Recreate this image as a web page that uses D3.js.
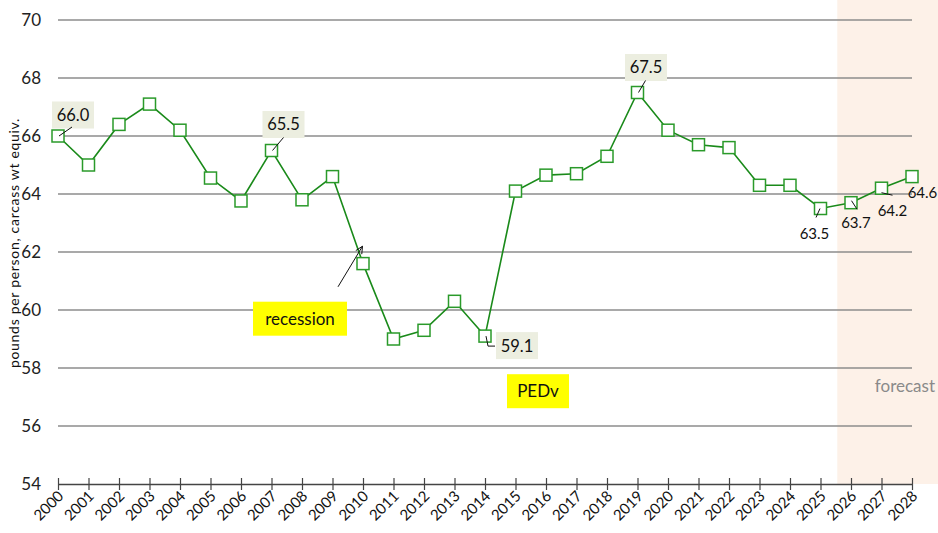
<!DOCTYPE html>
<html><head><meta charset="utf-8">
<script src="https://cdn.jsdelivr.net/npm/d3@7"></script>
<style>body{margin:0;background:#fff}svg{display:block;font-family:Lato,"Open Sans",sans-serif}</style>
</head><body><svg id="c" width="938" height="533"></svg>
<script>
const years = [2000,2001,2002,2003,2004,2005,2006,2007,2008,2009,2010,2011,2012,2013,2014,2015,2016,2017,2018,2019,2020,2021,2022,2023,2024,2025,2026,2027,2028];
const values = [66.0,65.0,66.4,67.1,66.2,64.55,63.76,65.5,63.8,64.6,61.6,59.0,59.3,60.3,59.1,64.1,64.65,64.7,65.3,67.5,66.2,65.7,65.6,64.3,64.3,63.5,63.7,64.2,64.6];
const yTicks = [54,56,58,60,62,64,66,68,70];
const forecastStart = 2025.55;
const boxedLabels = [2000,2007,2019,2014];
const plainLabels = [2025,2026,2027,2028];
const yTitle = "pounds per person, carcass wt equiv.";

const svg = d3.select("#c");
const x = d3.scaleLinear().domain([2000,2028]).range([58,912]);
const y = d3.scaleLinear().domain([54,70]).range([484,20]);
const val = yr => values[years.indexOf(yr)];

// forecast band
svg.append("rect").attr("x", x(forecastStart)).attr("y", 0)
  .attr("width", 938 - x(forecastStart)).attr("height", y(54) - 0)
  .attr("fill", "#fdf1e8");

// gridlines
svg.append("g").selectAll("line").data(yTicks.filter(d=>d>54)).join("line")
  .attr("x1", x(2000)).attr("x2", x(2028)).attr("y1", d=>y(d)).attr("y2", d=>y(d))
  .attr("stroke", "#8c8c8c").attr("stroke-width", 1.5);

// y labels
svg.append("g").selectAll("text").data(yTicks).join("text")
  .attr("x", 41).attr("y", d=>y(d)).attr("dy", "0.36em").attr("text-anchor","end")
  .attr("font-size", 17).attr("fill", "#222").text(d=>d);

// x axis
const xAxis = d3.axisBottom(x).tickValues(years).tickFormat(d3.format("d")).tickSize(6).tickSizeOuter(0);
const gx = svg.append("g").attr("transform", `translate(0,${y(54)})`).call(xAxis);
gx.select(".domain").attr("stroke", "#444").attr("stroke-width", 1.5);
gx.selectAll(".tick line").attr("y1", -6).attr("y2", 6).attr("stroke", "#444").attr("stroke-width", 1.2);
gx.selectAll(".tick text").attr("font-size", 15).attr("fill", "#111")
  .attr("font-family", "Lato, 'Open Sans', sans-serif")
  .attr("text-anchor", "end").attr("dx", 0).attr("dy", 0).attr("y", 0)
  .attr("transform", "translate(6,13) rotate(-45)");

// y title
svg.append("text").attr("transform", "translate(19,243) rotate(-90)")
  .attr("text-anchor", "middle").attr("font-size", 14).attr("letter-spacing", 0.7).attr("fill", "#111").text(yTitle);

// line
svg.append("path").datum(years.map((d,i)=>[d,values[i]]))
  .attr("d", d3.line().x(d=>x(d[0])).y(d=>y(d[1])))
  .attr("fill","none").attr("stroke","#1a8a1a").attr("stroke-width",1.6);

// markers
svg.append("g").selectAll("rect").data(years.map((d,i)=>[d,values[i]])).join("rect")
  .attr("x", d=>x(d[0])-6).attr("y", d=>y(d[1])-6).attr("width",12).attr("height",12)
  .attr("fill","#fff").attr("stroke","#2a9a2a").attr("stroke-width",1.5);

// boxed labels: offsets of box centre and leader end
const boxedPos = {2000:{dx:15,dy:-21,lx:14,ly:-9}, 2007:{dx:12,dy:-26,lx:12,ly:-13}, 2019:{dx:8.5,dy:-25,lx:8,ly:-12}, 2014:{dx:32,dy:9.5}};
const fmt = d3.format(".1f");
boxedLabels.forEach(yr=>{
  const cx = x(yr), cy = y(val(yr)), p = boxedPos[yr];
  const g = svg.append("g");
  g.append("rect").attr("x", cx+p.dx-21).attr("y", cy+p.dy-13.5).attr("width",42).attr("height",27).attr("fill","#eceee0");
  g.append("text").attr("x", cx+p.dx).attr("y", cy+p.dy).attr("dy","0.36em").attr("text-anchor","middle")
    .attr("font-size",16.5).attr("fill","#111").text(fmt(val(yr)));
  if (yr===2014) {
    g.append("path").attr("d", `M${cx+1},${cy}L${cx+3},${cy+10}L${cx+10},${cy+10}`).attr("fill","none").attr("stroke","#111").attr("stroke-width",1);
  } else {
    g.append("line").attr("x1",cx+1).attr("y1",cy).attr("x2",cx+p.lx).attr("y2",cy+p.ly).attr("stroke","#111").attr("stroke-width",1);
  }
});

// plain labels
const plainPos = {2025:{tx:-6,ty:25,l:[-0.5,0,-4.5,9]}, 2026:{tx:5,ty:20,l:[0.5,-2,6,6.5]}, 2027:{tx:11,ty:22,l:[0,4.5,11,7]}, 2028:{tx:10.5,ty:16}};
plainLabels.forEach(yr=>{
  const cx = x(yr), cy = y(val(yr)), p = plainPos[yr];
  svg.append("text").attr("x", cx+p.tx).attr("y", cy+p.ty).attr("dy","0.36em").attr("text-anchor","middle")
    .attr("font-size",15).attr("fill","#111").text(fmt(val(yr)));
  if (p.l) svg.append("line").attr("x1",cx+p.l[0]).attr("y1",cy+p.l[1]).attr("x2",cx+p.l[2]).attr("y2",cy+p.l[3])
    .attr("stroke","#111").attr("stroke-width",1);
});

// annotations
function note(txt, xc, yc, w, h) {
  svg.append("rect").attr("x", xc-w/2).attr("y", yc-h/2).attr("width", w).attr("height", h).attr("fill","#ffff00");
  svg.append("text").attr("x", xc).attr("y", yc).attr("dy","0.36em").attr("text-anchor","middle")
    .attr("font-size",17).attr("fill","#111").text(txt);
}
note("recession", x(2008) - 2, y(59.7), 94, 34);
note("PEDv", x(2016) - 8, y(57.2), 62, 34);

// recession arrow
const ax1 = x(2009)+5.5, ay1 = y(60.8), ax2 = x(2010)-0.5, ay2 = y(62.2);
svg.append("line").attr("x1",ax1).attr("y1",ay1).attr("x2",ax2).attr("y2",ay2).attr("stroke","#111").attr("stroke-width",1);
const ang = Math.atan2(ay2-ay1, ax2-ax1);
[0.45,-0.45].forEach(a=>{
  svg.append("line").attr("x1",ax2).attr("y1",ay2)
    .attr("x2",ax2-8*Math.cos(ang+a)).attr("y2",ay2-8*Math.sin(ang+a)).attr("stroke","#111").attr("stroke-width",1);
});

// forecast text
svg.append("text").attr("x", 935).attr("y", y(57.4)).attr("dy","0.36em").attr("text-anchor","end")
  .attr("font-size",17).attr("fill","#8a8a8a").text("forecast");
</script></body></html>
